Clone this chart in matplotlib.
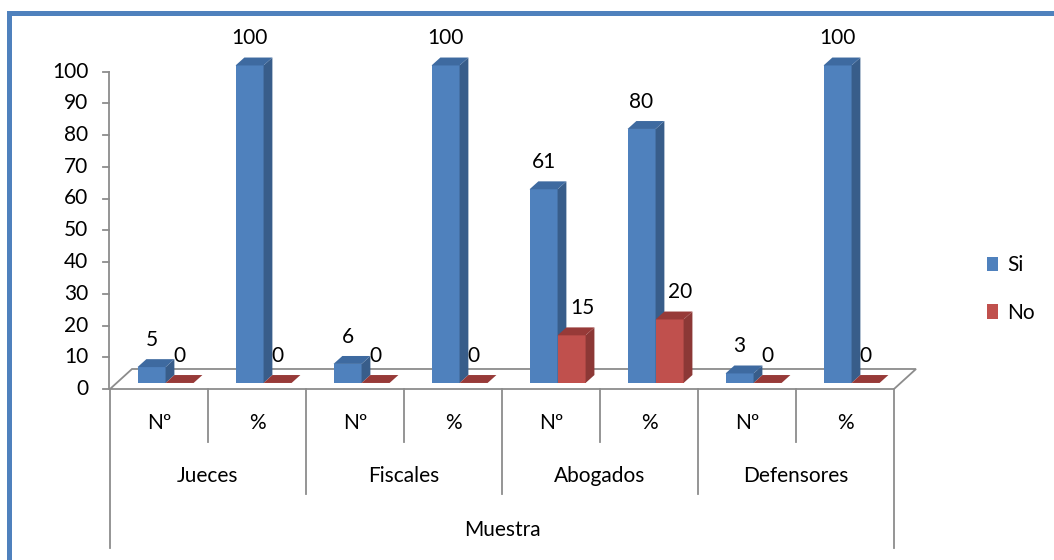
import matplotlib.pyplot as plt
from matplotlib.patches import Rectangle, Polygon, Patch

plt.rcParams['font.family'] = ['Lato', 'DejaVu Sans']

grupos = ['Jueces', 'Fiscales', 'Abogados', 'Defensores']
subcat = ['Nº', '%']
si = [5, 100, 6, 100, 61, 80, 3, 100]
no = [0, 0, 0, 0, 15, 20, 0, 0]
yticks = list(range(0, 101, 10))

azul, azul_lado, azul_top = '#4F81BD', '#385D8A', '#3E6AA0'
rojo, rojo_lado, rojo_top = '#C0504D', '#8C3836', '#973A38'
gris = '#8C8C8C'
fs = 15

fig = plt.figure(figsize=(10.54, 5.6), dpi=100)
ax = fig.add_axes([0, 0, 1, 1])
# 1 categoria = 98 px, 1 unidad = 3.175 px, origen en (110, 389)
ax.set_xlim(-110 / 98, (1054 - 110) / 98)
ax.set_ylim(-171 / 3.175, 389 / 3.175)
ax.axis('off')

# profundidad del piso, posicion y fondo de las barras
fdx, fdy = 0.2245, 6.3
bdx, bdy = 0.067, 1.9
ddx, ddy = 0.09, 2.5
w = 0.286

# piso
ax.add_patch(Polygon([(0, 0), (8, 0), (8 + fdx, fdy), (fdx, fdy)], closed=True,
                     facecolor='white', edgecolor=gris, lw=1.3, zorder=1))


def barra(x0, h, base, c_front, c_side, c_top):
    if h > 0:
        ax.add_patch(Rectangle((x0, base), w, h, facecolor=c_front, edgecolor='none', zorder=2))
        ax.add_patch(Polygon([(x0 + w, base), (x0 + w + ddx, base + ddy),
                              (x0 + w + ddx, base + h + ddy), (x0 + w, base + h)],
                             closed=True, facecolor=c_side, edgecolor='none', zorder=2))
    ax.add_patch(Polygon([(x0, base + h), (x0 + w, base + h),
                          (x0 + w + ddx, base + h + ddy), (x0 + ddx, base + h + ddy)],
                         closed=True, facecolor=c_top, edgecolor='none', zorder=2))


for i in range(8):
    c = i + 0.5 + bdx
    barra(c - w, si[i], bdy, azul, azul_lado, azul_top)
    barra(c, no[i], bdy, rojo, rojo_lado, rojo_top)
    ax.text(c - w / 2, bdy + si[i] + 8.5, str(si[i]), ha='center', va='center', fontsize=fs, zorder=3)
    dx_lab = 0.11 if no[i] > 0 else 0
    ax.text(c + w / 2 + dx_lab, bdy + no[i] + 8.5, str(no[i]), ha='center', va='center', fontsize=fs, zorder=3)

# eje vertical
ax.plot([-0.015, -0.015], [0, 100], color=gris, lw=1.3)
for t in yticks:
    ax.plot([-0.075, -0.015], [t, t], color=gris, lw=1.3)
    ax.text(-0.22, t, str(t), ha='right', va='center', fontsize=fs)

# eje de categorias (niveles)
for k in range(9):
    if k in (0, 8):
        y1 = -50.1
    elif k % 2 == 0:
        y1 = -33.1
    else:
        y1 = -16.7
    ax.plot([k, k], [0, y1], color=gris, lw=1.3)
for i in range(8):
    ax.text(i + 0.5, -10.7, subcat[i % 2], ha='center', va='center', fontsize=fs)
for g, nombre in enumerate(grupos):
    ax.text(2 * g + 1, -27.4, nombre, ha='center', va='center', fontsize=fs)
ax.text(4, -44.4, 'Muestra', ha='center', va='center', fontsize=fs)

ax.legend(handles=[Patch(facecolor=azul, label='Si'), Patch(facecolor=rojo, label='No')],
          loc='center left', bbox_to_anchor=(987 / 1054, 1 - 289 / 560), frameon=False,
          fontsize=fs, handlelength=0.55, handleheight=0.7, handletextpad=0.4,
          labelspacing=1.3, borderpad=0, borderaxespad=0)

# marco azul
fig.add_artist(plt.Line2D([9 / 1054, 9 / 1054, 1], [0, 1 - 12.5 / 560, 1 - 12.5 / 560],
                          transform=fig.transFigure, color='#4F81BD', lw=3.6,
                          solid_joinstyle='miter'))

fig.savefig('out.png', dpi=100)
